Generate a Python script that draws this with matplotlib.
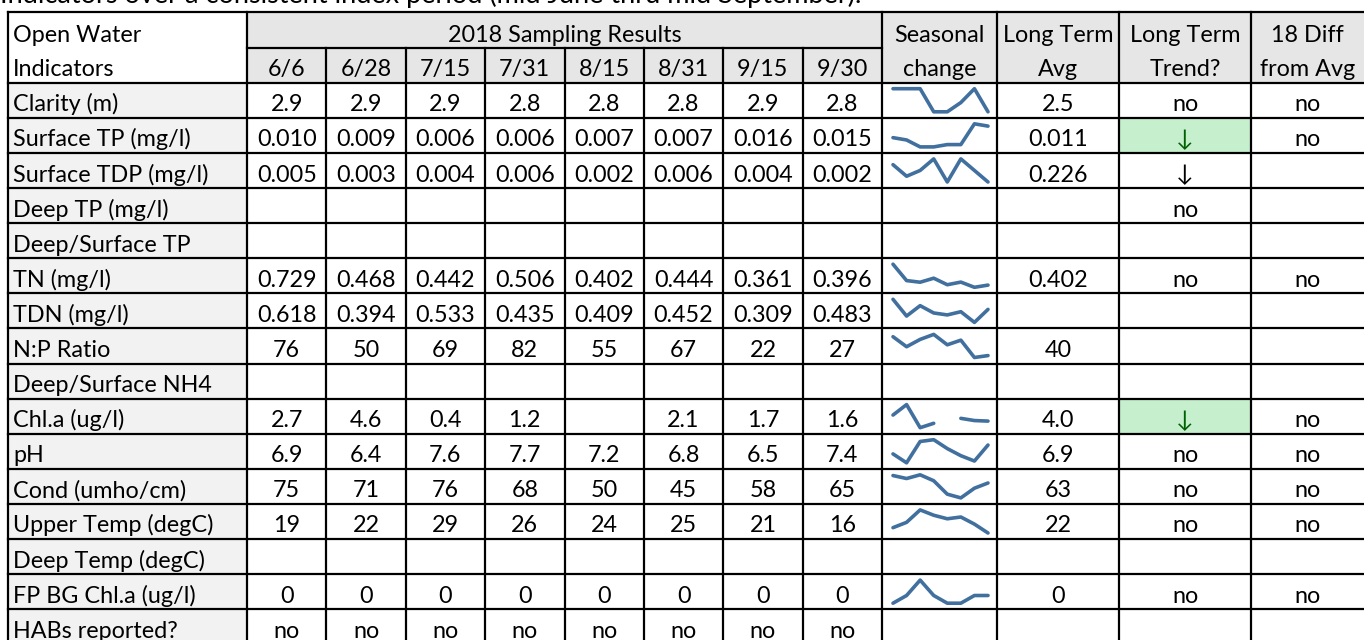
import numpy as np
import matplotlib
matplotlib.use("Agg")
import matplotlib.pyplot as plt
from matplotlib.patches import Rectangle

# ---------------- data ----------------
title = "Indicators over a consistent index period (mid June thru mid September)."
header_left = ["Open Water", "Indicators"]
group_title = "2018 Sampling Results"
dates = ["6/6", "6/28", "7/15", "7/31", "8/15", "8/31", "9/15", "9/30"]
right_headers = [("Seasonal", "change"), ("Long Term", "Avg"), ("Long Term", "Trend?"), ("18 Diff", "from Avg")]

labels = ["Clarity (m)", "Surface TP (mg/l)", "Surface TDP (mg/l)", "Deep TP (mg/l)",
          "Deep/Surface TP", "TN (mg/l)", "TDN (mg/l)", "N:P Ratio", "Deep/Surface NH4",
          "Chl.a (ug/l)", "pH", "Cond (umho/cm)", "Upper Temp (degC)", "Deep Temp (degC)",
          "FP BG Chl.a (ug/l)", "HABs reported?"]

nan = np.nan
clarity = [2.9, 2.9, 2.9, 2.8, 2.8, 2.84, 2.9, 2.8]
surface_tp = [0.010, 0.009, 0.006, 0.006, 0.007, 0.007, 0.016, 0.015]
surface_tdp = [0.005, 0.003, 0.004, 0.006, 0.002, 0.006, 0.004, 0.002]
deep_tp = [nan] * 8
deep_surface_tp = [nan] * 8
tn = [0.729, 0.468, 0.442, 0.506, 0.402, 0.444, 0.361, 0.396]
tdn = [0.618, 0.394, 0.533, 0.435, 0.409, 0.452, 0.309, 0.483]
np_ratio = [76, 50, 69, 82, 55, 67, 22, 27]
deep_surface_nh4 = [nan] * 8
chla = [2.7, 4.6, 0.4, 1.2, nan, 2.1, 1.7, 1.6]
ph = [6.9, 6.4, 7.6, 7.7, 7.2, 6.8, 6.5, 7.4]
cond = [75, 71, 76, 68, 50, 45, 58, 65]
upper_temp = [19, 22, 29, 26, 24, 25, 21, 16]
deep_temp = [nan] * 8
fp_bg_chla = [0.1, 0.2, 0.4, 0.2, 0.1, 0.1, 0.2, 0.2]
habs = ["no"] * 8

row_values = [clarity, surface_tp, surface_tdp, deep_tp, deep_surface_tp, tn, tdn,
              np_ratio, deep_surface_nh4, chla, ph, cond, upper_temp, deep_temp,
              fp_bg_chla, habs]
decimals = [1, 3, 3, 3, 2, 3, 3, 0, 2, 1, 1, 0, 0, 0, 0, None]

long_term_avg = ["2.5", "0.011", "0.226", "", "", "0.402", "", "40", "", "4.0",
                 "6.9", "63", "22", "", "0", ""]
long_term_trend = ["no", "↓", "↓", "no", "", "no", "", "", "", "↓",
                   "no", "no", "no", "", "no", ""]
trend_significant = [False, True, False, False, False, False, False, False, False, True,
                     False, False, False, False, False, False]
diff_from_avg = ["no", "no", "", "", "", "no", "", "", "", "no",
                 "no", "no", "no", "", "no", ""]

# ---------------- layout ----------------
W, H = 1364, 640
fig = plt.figure(figsize=(W / 100, H / 100), dpi=100)
ax = fig.add_axes([0, 0, 1, 1])
ax.set_xlim(0, W)
ax.set_ylim(H, 0)
ax.axis("off")

FONT = ["Lato", "DejaVu Sans"]
FS = 16.8
LW = 1.6

x_left = 8
x_label_end = 247
x_dates_end = 882
date_edges = np.linspace(x_label_end, x_dates_end, len(dates) + 1)
right_edges = [882, 997, 1119, 1251, 1380]
y_top = 12
y_mid = 48
y_head_end = 82.7
row_h = 35.1
row_edges = [y_head_end + i * row_h for i in range(len(labels) + 1)]

HEAD_BG = "#e7e6e6"
LABEL_BG = "#f2f2f2"
GREEN_BG = "#c6efce"
GREEN_FG = "#006100"
SPARK = "#41709f"

def rect(x0, y0, x1, y1, color):
    ax.add_patch(Rectangle((x0, y0), x1 - x0, y1 - y0, facecolor=color, edgecolor="none", zorder=0))

def txt(x, y, s, ha="center", color="black", fs=FS):
    ax.text(x, y, s, ha=ha, va="baseline", fontsize=fs, family=FONT, color=color, zorder=3)

# title (partially cut off at top, as in the source)
txt(0, 3, title, ha="left", fs=19.5)

# header backgrounds
rect(x_label_end, y_top, W, y_head_end, HEAD_BG)

# label column background
rect(x_left, row_edges[0], x_label_end, row_edges[-1], LABEL_BG)

# green significant cells
for i, sig in enumerate(trend_significant):
    if sig:
        rect(right_edges[2], row_edges[i], right_edges[3], row_edges[i + 1], GREEN_BG)

BASE_OFF = 6.5

# header text
txt(x_left + 5, y_mid - BASE_OFF, header_left[0], ha="left")
txt(x_left + 5, y_head_end - BASE_OFF, header_left[1], ha="left")
txt((x_label_end + x_dates_end) / 2, y_mid - BASE_OFF, group_title)
for j, d in enumerate(dates):
    txt((date_edges[j] + date_edges[j + 1]) / 2, y_head_end - BASE_OFF, d)
for k, (a, b) in enumerate(right_headers):
    cx = (right_edges[k] + min(right_edges[k + 1], W)) / 2
    txt(cx, y_mid - BASE_OFF, a)
    txt(cx, y_head_end - BASE_OFF, b)

# body text
for i, lab in enumerate(labels):
    yb = row_edges[i + 1] - BASE_OFF
    txt(x_left + 5, yb, lab, ha="left")
    vals = row_values[i]
    dec = decimals[i]
    for j in range(len(dates)):
        v = vals[j]
        if isinstance(v, str):
            s = v
        elif np.isnan(v):
            s = ""
        else:
            s = f"{v:.{dec}f}"
        if s:
            txt((date_edges[j] + date_edges[j + 1]) / 2, yb, s)
    cols = [long_term_avg[i], long_term_trend[i], diff_from_avg[i]]
    for k, s in enumerate(cols):
        if not s:
            continue
        cx = (right_edges[k + 1] + min(right_edges[k + 2], W)) / 2
        color = GREEN_FG if (k == 1 and trend_significant[i]) else "black"
        txt(cx, yb, s, color=color)

# grid lines
line_kw = dict(color="black", lw=LW, zorder=4, solid_capstyle="projecting")
ax.plot([x_left, W], [y_top, y_top], **line_kw)
ax.plot([x_label_end, x_dates_end], [y_mid, y_mid], **line_kw)
for y in row_edges:
    ax.plot([x_left, W], [y, y], **line_kw)
ax.plot([x_left, x_left], [y_top, H + 5], **line_kw)
ax.plot([x_label_end, x_label_end], [y_top, H + 5], **line_kw)
for x in date_edges[1:-1]:
    ax.plot([x, x], [y_mid, H + 5], **line_kw)
for x in right_edges[:-1]:
    ax.plot([x, x], [y_top, H + 5], **line_kw)

# sparklines
sx0, sx1 = 893, 988
pad = 6
for i, vals in enumerate(row_values):
    if isinstance(vals[0], str):
        continue
    arr = np.array(vals, dtype=float)
    if np.all(np.isnan(arr)):
        continue
    y0 = row_edges[i] + pad
    y1 = row_edges[i + 1] - pad
    sax = fig.add_axes([sx0 / W, 1 - y1 / H, (sx1 - sx0) / W, (y1 - y0) / H])
    sax.plot(np.arange(len(arr)), arr, color=SPARK, lw=2.6, clip_on=False,
             solid_joinstyle="round", solid_capstyle="round")
    sax.set_xlim(0, len(arr) - 1)
    lo, hi = np.nanmin(arr), np.nanmax(arr)
    sax.set_ylim(lo, hi)
    sax.axis("off")

fig.savefig("out.png", dpi=100)
